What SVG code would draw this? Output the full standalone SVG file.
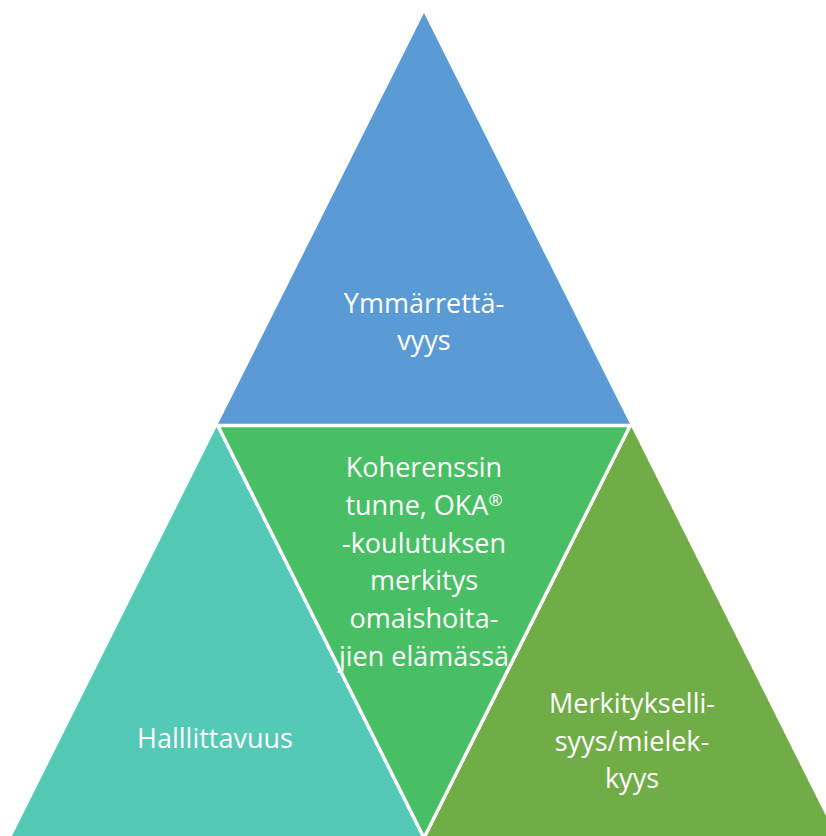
<svg xmlns="http://www.w3.org/2000/svg" width="826" height="836" viewBox="0 0 826 836">
<style>
.lbl{font-family:"Open Sans","Liberation Sans",Arial,sans-serif;font-size:27px;fill:#ffffff;text-anchor:middle}
.sup{font-size:17px}
.sep{stroke:#ffffff;stroke-width:3.5;fill:none}
</style>
<rect width="826" height="836" fill="#ffffff"/>
<g id="top">
<polygon points="424,13 217.5,425 630.5,425" fill="#5B9BD5"/>
<text class="lbl" x="424" y="313">Ymmärrettä-</text>
<text class="lbl" x="424" y="350">vyys</text>
</g>
<g id="left">
<polygon points="217.5,425 11,838 424,838" fill="#54C9B6"/>
<text class="lbl" x="215" y="748">Halllittavuus</text>
</g>
<g id="center">
<polygon points="217.5,425 630.5,425 424,838" fill="#48BF64"/>
<text class="lbl" x="424" y="477">Koherenssin</text>
<text class="lbl" x="424" y="515">tunne, OKA<tspan class="sup" dy="-9">®</tspan></text>
<text class="lbl" x="424" y="553">-koulutuksen</text>
<text class="lbl" x="424" y="590">merkitys</text>
<text class="lbl" x="424" y="628">omaishoita-</text>
<text class="lbl" x="424" y="666">jien elämässä</text>
</g>
<g id="right">
<polygon points="630.5,425 424,838 837,838" fill="#70AD47"/>
<text class="lbl" x="632" y="713">Merkitykselli-</text>
<text class="lbl" x="632" y="751">syys/mielek-</text>
<text class="lbl" x="632" y="788">kyys</text>
</g>
<g id="separators">
<line class="sep" x1="214" y1="425.5" x2="634" y2="425.5"/>
<line class="sep" x1="217.5" y1="425" x2="424.5" y2="839"/>
<line class="sep" x1="630.5" y1="425" x2="423.5" y2="839"/>
</g>
</svg>
